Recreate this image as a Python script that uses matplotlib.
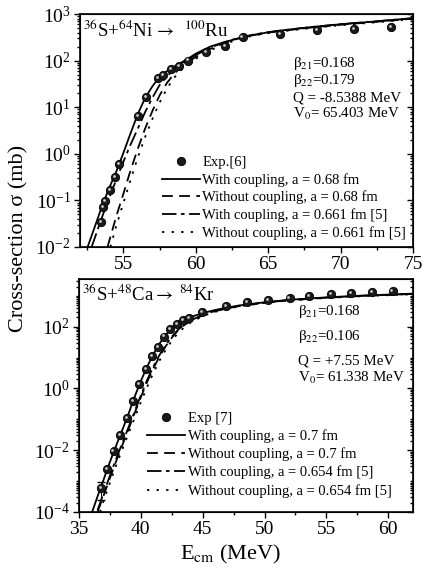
import numpy as np
import matplotlib
matplotlib.use("Agg")
import matplotlib.pyplot as plt
from matplotlib.ticker import FixedLocator, LogFormatterSciNotation, MultipleLocator, NullFormatter
from matplotlib.transforms import offset_copy

plt.rcParams["font.family"] = ["Liberation Serif", "DejaVu Serif"]
plt.rcParams["mathtext.fontset"] = "stix"
plt.rcParams["axes.unicode_minus"] = False

# ---- 36S + 64Ni -> 100Ru -------------------------------------------------
ni_exp_E = [53.46, 53.58, 53.76, 54.08, 54.45, 54.72, 55.99, 56.57, 57.41, 57.76,
            58.27, 58.84, 59.48, 60.70, 62.01, 63.23, 65.81, 68.40, 70.91, 73.46]
ni_exp_sig = [0.035, 0.073, 0.098, 0.166, 0.32, 0.60, 6.5, 16.8, 42, 48,
              65, 76, 100, 155, 205, 325, 370, 455, 475, 520]

ni_E = [52.5, 53.0, 53.5, 54.0, 54.5, 55.0, 55.5, 56.0, 56.5, 57.0, 57.5, 58.0, 58.5,
        59.0, 59.5, 60.0, 61.0, 62.0, 63.0, 64.0, 65.0, 66.0, 68.0, 70.0, 72.0, 75.0]
ni_with_068 = [0.0095, 0.026, 0.072, 0.18, 0.41, 1.05, 2.8, 7.2, 15.8, 28, 45, 59, 74,
               91, 112, 141, 200, 250, 305, 355, 405, 447, 525, 603, 676, 813]

ni_E_dd = [52.8, 53.0, 53.5, 54.0, 54.5, 55.0, 55.5, 56.0, 56.5, 57.0, 57.5, 58.0, 58.5,
           59.0, 59.5, 60.0, 61.0, 62.0, 63.0, 64.0, 65.0, 66.0, 68.0, 70.0, 72.0, 75.0]
ni_with_0661 = [0.01, 0.015, 0.042, 0.11, 0.275, 0.68, 1.6, 3.5, 7.9, 16, 30, 46, 65,
                85, 107, 132, 190, 250, 310, 363, 407, 447, 525, 603, 676, 813]

ni_E_wo = [53.9, 54.5, 55.0, 55.5, 56.0, 56.5, 57.0, 57.5, 58.0, 58.5, 59.0, 59.5,
           60.0, 61.0, 62.0, 63.0, 64.0, 65.0, 66.0, 68.0, 70.0, 72.0, 75.0]
ni_without_068 = [0.01, 0.045, 0.14, 0.45, 1.3, 3.5, 8.3, 18, 33, 52, 74, 95,
                  120, 178, 240, 302, 355, 398, 437, 513, 589, 661, 794]

ni_E_wo2 = [54.1, 54.5, 55.0, 55.5, 56.0, 56.5, 57.0, 57.5, 58.0, 58.5, 59.0, 59.5,
            60.0, 61.0, 62.0, 63.0, 64.0, 65.0, 66.0, 68.0, 70.0, 72.0, 75.0]
ni_without_0661 = [0.01, 0.028, 0.089, 0.28, 0.85, 2.3, 5.6, 12.6, 25, 43, 63, 85,
                   110, 166, 229, 288, 347, 389, 427, 501, 575, 646, 776]

# ---- 36S + 48Ca -> 84Kr --------------------------------------------------
ca_exp_E = [36.76, 37.29, 37.79, 38.35, 38.88, 39.36, 39.89, 40.40, 40.90, 41.38,
            41.86, 42.37, 42.90, 43.43, 43.91, 44.92, 46.91, 48.62, 50.29, 52.02,
            53.62, 55.35, 57.00, 58.67, 60.35]
ca_exp_sig = [5.9e-4, 2.5e-3, 9.1e-3, 0.032, 0.11, 0.38, 1.37, 4.2, 11, 22,
              48, 82, 119, 164, 195, 290, 465, 610, 730, 865,
              980, 1140, 1200, 1290, 1380]

ca_E = [36.0, 36.5, 37.0, 37.5, 38.0, 38.5, 39.0, 39.5, 40.0, 40.5, 41.0, 41.5, 42.0,
        42.5, 43.0, 43.5, 44.0, 45.0, 46.0, 47.0, 48.0, 50.0, 52.0, 55.0, 58.0, 62.0]
ca_with_07 = [8.5e-5, 3.2e-4, 1.15e-3, 4.2e-3, 0.014, 0.045, 0.15, 0.54, 1.74, 5.0, 12.6,
              28, 54, 89, 126, 166, 204, 275, 347, 417, 490, 617, 741, 891, 1023, 1175]

ca_E2 = [36.5, 37.0, 37.5, 38.0, 38.5, 39.0, 39.5, 40.0, 40.5, 41.0, 41.5, 42.0,
         42.5, 43.0, 43.5, 44.0, 45.0, 46.0, 47.0, 48.0, 50.0, 52.0, 55.0, 58.0, 62.0]
ca_with_0654 = [1.15e-4, 4.2e-4, 1.5e-3, 5.2e-3, 0.017, 0.055, 0.18, 0.6, 1.86, 5.0, 12,
                25, 47, 79, 117, 158, 240, 324, 398, 479, 603, 724, 871, 1000, 1148]
ca_without_07 = [1.0e-4, 3.5e-4, 1.26e-3, 4.4e-3, 0.0145, 0.048, 0.16, 0.52, 1.6, 4.4, 10.7,
                 23, 44, 76, 112, 151, 234, 316, 398, 468, 603, 724, 871, 1000, 1148]

ca_E3 = [36.7, 37.0, 37.5, 38.0, 38.5, 39.0, 39.5, 40.0, 40.5, 41.0, 41.5, 42.0,
         42.5, 43.0, 43.5, 44.0, 45.0, 46.0, 47.0, 48.0, 50.0, 52.0, 55.0, 58.0, 62.0]
ca_without_0654 = [1.0e-4, 2.4e-4, 8.9e-4, 3.2e-3, 0.0105, 0.035, 0.112, 0.36, 1.1, 3.1, 7.9,
                   17.4, 35, 62, 95, 135, 219, 302, 380, 457, 589, 708, 851, 977, 1122]

# error bar on lowest Ca point (lower, upper)
ca_err_lo = [2.5e-4]
ca_err_hi = [9.3e-4]

DASH = (0, (6, 3.5))
DASHDOT = (0, (8, 2.5, 2, 2.5))
DOT = (0, (1.3, 4))


def balls(ax, x, y, label):
    h1, = ax.plot(x, y, ls="none", marker="o", ms=6, mfc="#1a1a1a", mec="black",
                  mew=0.6, label=label, zorder=5)
    tr = offset_copy(ax.transData, fig=ax.figure, x=-0.8, y=0.8, units="points")
    ax.plot(x, y, ls="none", marker="o", ms=2.0, mfc="#c8c8c8", mec="none",
            transform=tr, zorder=6)
    return h1


def style_axis(ax, majors, minors):
    ax.set_yscale("log")
    ax.yaxis.set_major_locator(FixedLocator(majors))
    ax.yaxis.set_minor_locator(FixedLocator(minors))
    ax.yaxis.set_major_formatter(LogFormatterSciNotation())
    ax.yaxis.set_minor_formatter(NullFormatter())
    ax.xaxis.set_major_locator(MultipleLocator(5))
    ax.xaxis.set_minor_locator(MultipleLocator(2.5))
    ax.tick_params(which="both", direction="out", labelsize=14, width=1.0)
    ax.tick_params(which="major", length=4.5, pad=2)
    ax.tick_params(which="minor", length=2.5)
    for s in ax.spines.values():
        s.set_linewidth(1.2)
    # inward ticks on the right spine
    tw = ax.twinx()
    tw.set_yscale("log")
    tw.set_ylim(ax.get_ylim())
    tw.yaxis.set_major_locator(FixedLocator(majors))
    tw.yaxis.set_minor_locator(FixedLocator(minors))
    tw.yaxis.set_major_formatter(NullFormatter())
    tw.yaxis.set_minor_formatter(NullFormatter())
    tw.tick_params(which="both", direction="in", width=1.0)
    tw.tick_params(which="major", length=4)
    tw.tick_params(which="minor", length=2)


fig = plt.figure(figsize=(4.22, 5.76), dpi=100)
ax1 = fig.add_axes([80 / 422, 1 - 247 / 576, 333 / 422, 233 / 576])
ax2 = fig.add_axes([79 / 422, 1 - 512 / 576, 334 / 422, 233 / 576])

# top panel
balls(ax1, ni_exp_E, ni_exp_sig, "Exp.[6]")
ax1.plot(ni_E, ni_with_068, color="black", lw=1.3, label="With coupling, a = 0.68 fm")
ax1.plot(ni_E_wo, ni_without_068, color="black", lw=1.3, ls=DASH,
         label="Without coupling, a = 0.68 fm")
ax1.plot(ni_E_dd, ni_with_0661, color="black", lw=1.3, ls=DASHDOT,
         label="With coupling, a = 0.661 fm [5]")
ax1.plot(ni_E_wo2, ni_without_0661, color="black", lw=1.3, ls=DOT,
         label="Without coupling, a = 0.661 fm [5]")
ax1.set_xlim(52, 75)
ax1.set_ylim(1e-2, 1e3)
sub = [k * 10.0 ** e for e in range(-2, 3) for k in range(2, 10)]
style_axis(ax1, [10.0 ** e for e in range(-2, 4)], sub)

ax1.text(0.01, 0.90, r"$^{36}$S+$^{64}$Ni$\,\rightarrow\;\;^{100}$Ru", transform=ax1.transAxes,
         fontsize=13.5, va="baseline")
for txt, y in [("β$_{21}$=0.168", 0.774), ("β$_{22}$=0.179", 0.700),
               ("Q = -8.5388 MeV", 0.624), ("V$_{0}$= 65.403 MeV", 0.554)]:
    ax1.text(0.64, y, txt, transform=ax1.transAxes, fontsize=10.8, va="baseline")
ax1.legend(loc="upper left", bbox_to_anchor=(0.245, 0.39), frameon=False, fontsize=10.5,
           handlelength=2.6, handletextpad=0.2, labelspacing=0.26, borderpad=0,
           borderaxespad=0)

# bottom panel
balls(ax2, ca_exp_E, ca_exp_sig, "Exp [7]")
ax2.errorbar([ca_exp_E[0]], [ca_exp_sig[0]],
             yerr=[[ca_exp_sig[0] - ca_err_lo[0]], [ca_err_hi[0] - ca_exp_sig[0]]],
             fmt="none", ecolor="black", elinewidth=0.8, capsize=3, zorder=4)
ax2.plot(ca_E, ca_with_07, color="black", lw=1.3, label="With coupling, a = 0.7 fm")
ax2.plot(ca_E2, ca_without_07, color="black", lw=1.3, ls=DASH,
         label="Without coupling, a = 0.7 fm")
ax2.plot(ca_E2, ca_with_0654, color="black", lw=1.3, ls=DASHDOT,
         label="With coupling, a = 0.654 fm [5]")
ax2.plot(ca_E3, ca_without_0654, color="black", lw=1.3, ls=DOT,
         label="Without coupling, a = 0.654 fm [5]")
ax2.set_xlim(35, 62)
ax2.set_ylim(1e-4, 3500)
majors2 = [1e-4, 1e-2, 1e0, 1e2]
sub2 = [k * 10.0 ** e for e in range(-4, 4) for k in range(1, 10)
        if k * 10.0 ** e not in majors2 and k * 10.0 ** e <= 3500]
style_axis(ax2, majors2, sub2)

ax2.text(0.01, 0.905, r"$^{36}$S+$^{48}$Ca$\rightarrow\;^{84}$Kr", transform=ax2.transAxes,
         fontsize=13.5, va="baseline")
for txt, y in [("β$_{21}$=0.168", 0.845), ("β$_{22}$=0.106", 0.738),
               ("Q = +7.55 MeV", 0.634), ("V$_{0}$= 61.338 MeV", 0.559)]:
    ax2.text(0.656, y, txt, transform=ax2.transAxes, fontsize=10.8, va="baseline")
ax2.legend(loc="upper left", bbox_to_anchor=(0.205, 0.43), frameon=False, fontsize=10.5,
           handlelength=2.6, handletextpad=0.2, labelspacing=0.3, borderpad=0,
           borderaxespad=0)

ax2.set_xlabel(r"E$_{\rm cm}$ (MeV)", fontsize=16, labelpad=2)
ax2.xaxis.set_label_coords((231 - 79) / 334, -0.135)
fig.text(0.045, 1 - 238 / 576, "Cross-section σ (mb)", rotation=90, fontsize=16,
         ha="center", va="center")

fig.savefig("out.png", dpi=100)
